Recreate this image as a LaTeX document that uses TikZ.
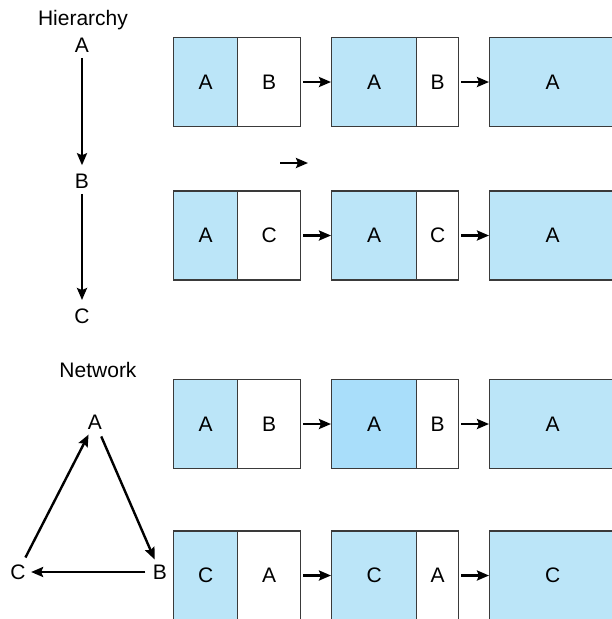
\documentclass[tikz,border=0pt]{standalone}
\usepackage{fontspec}
\setmainfont{Liberation Sans}
\usetikzlibrary{arrows.meta}
\definecolor{keyblue}{HTML}{BBE5F8}
\definecolor{keydeep}{HTML}{A9DEFA}
\definecolor{boxline}{HTML}{3A3A3A}

\begin{document}
\begin{tikzpicture}[x = 1pt, y = -1pt,
    every node/.style = {font = \fontsize{21}{25}\selectfont},
    key/.style = {draw = boxline, line width = 1.3pt, fill = keyblue, minimum height = 89pt, inner sep = 0pt, anchor = west},
    ptr/.style = {key, fill = white},
    link/.style = {line width = 2.4pt, -{Stealth[length = 12pt, width = 10pt, inset = 2pt]}}]
    \useasboundingbox (0, 0) rectangle (612, 619);

    \node (hier) at (83, 20) {Hierarchy};
    \node (hA) at (82, 45) {A};
    \node (hB) at (82, 181) {B};
    \node (hC) at (82, 316) {C};
    \draw [link, shorten <= 2pt, shorten >= 5pt] (hA) -- (hB);
    \draw [link, shorten <= 2pt, shorten >= 5pt] (hB) -- (hC);

    \node (net) at (98, 370) {Network};
    \node (nA) at (95, 422) {A};
    \node (nB) at (160, 572) {B};
    \node (nC) at (18, 572) {C};
    \draw [link, shorten <= 4pt, shorten >= 2pt] (nC) -- (nA);
    \draw [link, shorten <= 4pt, shorten >= 2pt] (nA) -- (nB);
    \draw [link, shorten <= 4pt, shorten >= 2pt] (nB) -- (nC);

    \foreach \row/\y/\p/\q/\mid in {1/82/A/B/keyblue, 2/235.5/A/C/keyblue, 3/424/A/B/keydeep, 4/575.5/C/A/keyblue} {
        \node [key, minimum width = 64pt] (r\row a) at (173, \y) {\p};
        \node [ptr, minimum width = 63pt] (r\row b) at (237, \y) {\q};
        \node [key, minimum width = 85pt, fill = \mid] (r\row c) at (331, \y) {\p};
        \node [ptr, minimum width = 42pt] (r\row d) at (416, \y) {\q};
        \node [key, minimum width = 126pt] (r\row e) at (489, \y) {\p};
        \draw [link, shorten <= 2pt] (r\row b) -- (r\row c);
        \draw [link, shorten <= 2pt] (r\row d) -- (r\row e);
    }

    \coordinate (stray0) at (280, 163);
    \coordinate (stray1) at (308, 163);
    \draw [link] (stray0) -- (stray1);
\end{tikzpicture}
\end{document}
